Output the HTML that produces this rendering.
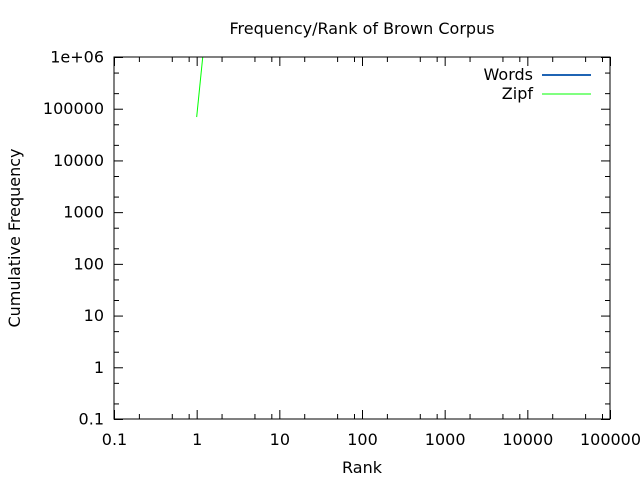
<!DOCTYPE html>
<html><head><meta charset="utf-8"><style>
body{margin:0;background:#fff;font-family:"DejaVu Sans",sans-serif}
text{font-family:"DejaVu Sans",sans-serif;fill:#000}
</style></head><body>
<svg id="c" width="640" height="480" xmlns="http://www.w3.org/2000/svg">
<rect width="640" height="480" fill="#fff"/>
<text x="362" y="34" font-size="16" text-anchor="middle">Frequency/Rank of Brown Corpus</text>
<text x="362" y="473" font-size="16" text-anchor="middle">Rank</text>
<text transform="translate(20,238) rotate(-90)" font-size="16" text-anchor="middle">Cumulative Frequency</text>
<g id="ax"></g>
<defs><clipPath id="clip"><rect x="114" y="57" width="496" height="362"/></clipPath></defs>
<g id="series" clip-path="url(#clip)"></g>
<rect x="114" y="57" width="496" height="362" fill="none" stroke="#000" stroke-width="1"/>
<text x="533" y="80" font-size="16" text-anchor="end">Words</text>
<line x1="542" y1="75" x2="591" y2="75" stroke="#1f64b4" stroke-width="2"/>
<text x="533" y="99" font-size="16" text-anchor="end">Zipf</text>
<line x1="542" y1="94" x2="591" y2="94" stroke="#00ff00" stroke-width="1"/>
</svg>
<script>
const xTicks=[0.1,1,10,100,1000,10000,100000];
const xTickLabels=["0.1","1","10","100","1000","10000","100000"];
const yTicks=[0.1,1,10,100,1000,10000,100000,1000000];
const yTickLabels=["0.1","1","10","100","1000","10000","100000","1e+06"];
const zipfRanks=[1,2];
const zipfFreqs=[69000,4000000000];
const wordRanks=[];
const wordFreqs=[];
const L=114,R=610,T=57,B=419;
function sx(v){return L+(Math.log10(v)+1)/6*(R-L);}
function sy(v){return B-(Math.log10(v)+1)/7*(B-T);}
const NS="http://www.w3.org/2000/svg";
const ax=document.getElementById('ax');
function ln(x1,y1,x2,y2,name){const l=document.createElementNS(NS,'line');l.setAttribute('x1',x1);l.setAttribute('y1',y1);l.setAttribute('x2',x2);l.setAttribute('y2',y2);l.setAttribute('stroke','#000');


ax.appendChild(l);}
function tx(x,y,s,anchor,name){const t=document.createElementNS(NS,'text');t.setAttribute('x',x);t.setAttribute('y',y);t.setAttribute('font-size','16');t.setAttribute('text-anchor',anchor);t.textContent=s;


ax.appendChild(t);}
xTicks.forEach((v,i)=>{const x=sx(v)+0.5;ln(x,B,x,B-9,'x-tick');ln(x,T,x,T+9,'x-tick');tx(x,445,xTickLabels[i],'middle','x-tick-label');
if(i<xTicks.length-1)[2,5,8].forEach(m=>{const xm=sx(v*m)+0.5;ln(xm,B,xm,B-5,'x-minor-tick');ln(xm,T,xm,T+5,'x-minor-tick');});});
yTicks.forEach((v,i)=>{const y=sy(v)+0.5;ln(L,y,L+9,y,'y-tick');ln(R,y,R-9,y,'y-tick');tx(104,y+5,yTickLabels[i],'end','y-tick-label');
if(i<yTicks.length-1)[2,5].forEach(m=>{const ym=sy(v*m)+0.5;ln(L,ym,L+5,ym,'y-minor-tick');ln(R,ym,R-5,ym,'y-minor-tick');});});
const sg=document.getElementById('series');
function poly(xs,ys,color,w,name){if(!xs.length)return;const p=document.createElementNS(NS,'polyline');p.setAttribute('points',xs.map((x,i)=>sx(x)+','+sy(ys[i])).join(' '));p.setAttribute('fill','none');p.setAttribute('stroke',color);p.setAttribute('stroke-width',w);


sg.appendChild(p);}
poly(wordRanks,wordFreqs,'#1f64b4',2,'words-line');
poly(zipfRanks,zipfFreqs,'#00ff00',1,'zipf-line');
</script>
</body></html>
